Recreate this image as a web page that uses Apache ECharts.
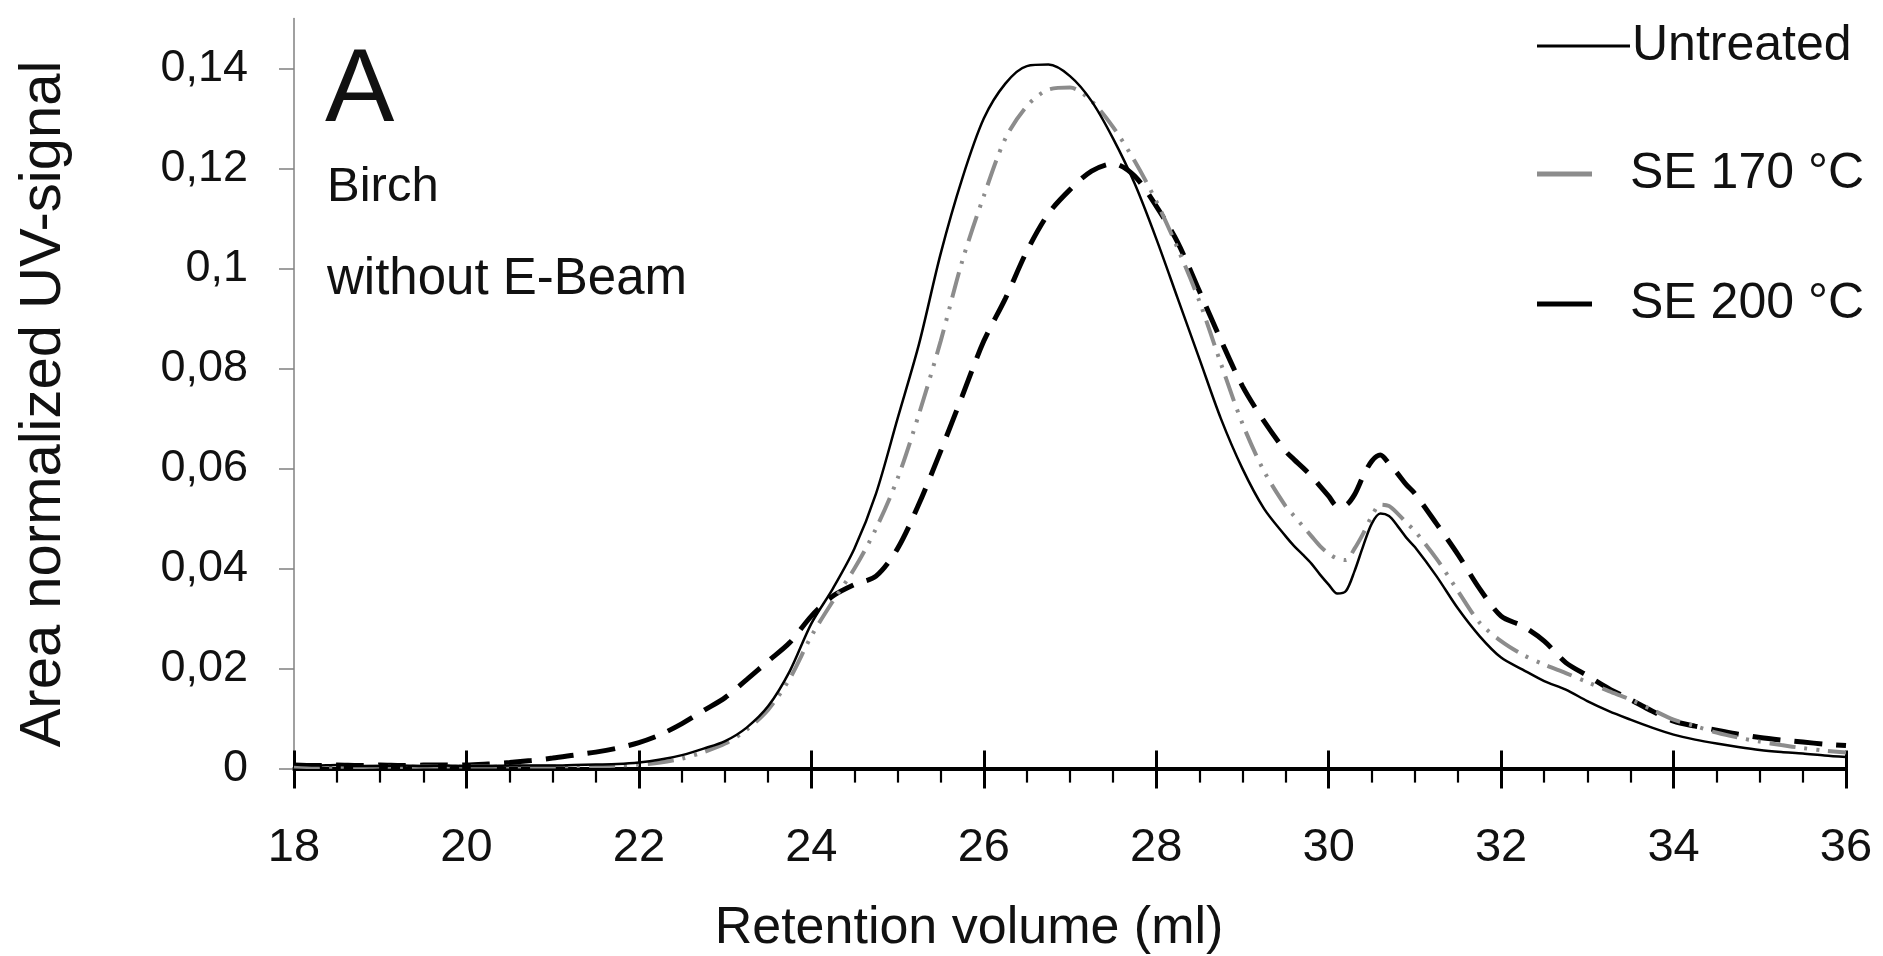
<!DOCTYPE html>
<html>
<head>
<meta charset="utf-8">
<script src="https://cdn.jsdelivr.net/npm/echarts@6/dist/echarts.min.js"></script>
<style>
html,body{margin:0;padding:0;background:#fff;}
#chart{width:1883px;height:956px;}
</style>
</head>
<body>
<div id="chart"></div>
<script>
// Retention volume (ml)
const volume = [
  18, 18.25, 18.5, 18.75, 19, 19.25, 19.5, 19.75,
  20, 20.25, 20.5, 20.75, 21, 21.25, 21.5, 21.75,
  22, 22.25, 22.5, 22.75, 23, 23.25, 23.5, 23.75,
  24, 24.25, 24.5, 24.75, 25, 25.25, 25.5, 25.75,
  26, 26.25, 26.5, 26.75, 27, 27.25, 27.5, 27.75,
  28, 28.25, 28.5, 28.75, 29, 29.25, 29.5,
  29.6, 29.7, 29.8, 29.9, 30.0, 30.1, 30.2, 30.3, 30.4, 30.5, 30.6, 30.7, 30.8, 30.9, 31.0,
  31.25, 31.5, 31.75,
  32, 32.25, 32.5, 32.75, 33, 33.25, 33.5, 33.75,
  34, 34.25, 34.5, 34.75, 35, 35.25, 35.5, 35.75, 36
];
const untreated = [
  0.0008, 0.0006, 0.0007, 0.0005, 0.0005, 0.0006, 0.0005, 0.0006,
  0.0005, 0.0005, 0.0006, 0.0006, 0.0006, 0.0007, 0.0008, 0.0009,
  0.0012, 0.0018, 0.0027, 0.0040, 0.0055, 0.0082, 0.0125, 0.0195,
  0.0290, 0.0360, 0.0440, 0.0550, 0.0700, 0.0850, 0.1030, 0.1180,
  0.1300, 0.1370, 0.1405, 0.1408, 0.1385, 0.1335, 0.1260, 0.1170,
  0.1060, 0.0940, 0.0820, 0.0700, 0.0600, 0.0520, 0.0465,
  0.0445, 0.0428, 0.0410, 0.0388, 0.0368, 0.0350, 0.0355, 0.0395, 0.0445, 0.0490, 0.0510, 0.0505, 0.0485, 0.0462, 0.0443,
  0.0385, 0.0320, 0.0265,
  0.0222, 0.0198, 0.0175, 0.0158, 0.0135, 0.0115, 0.0098, 0.0082,
  0.0068, 0.0058, 0.0050, 0.0043, 0.0037, 0.0033, 0.0030, 0.0026, 0.0023
];
const se170 = [
  0.0004, 0.0003, 0.0004, 0.0003, 0.0004, 0.0003, 0.0004, 0.0004,
  0.0004, 0.0004, 0.0004, 0.0004, 0.0004, 0.0005, 0.0005, 0.0006,
  0.0008, 0.0012, 0.0020, 0.0033, 0.0050, 0.0078, 0.0118, 0.0180,
  0.0265, 0.0335, 0.0400, 0.0480, 0.0580, 0.0710, 0.0855, 0.1015,
  0.1145, 0.1260, 0.1325, 0.1358, 0.1362, 0.1335, 0.1283, 0.1215,
  0.1135, 0.1040, 0.0935, 0.0810, 0.0690, 0.0595, 0.0525,
  0.0505, 0.0485, 0.0465, 0.0445, 0.0430, 0.0420, 0.0417, 0.0440, 0.0470, 0.0505, 0.0528, 0.0525, 0.0510, 0.0492, 0.0475,
  0.0420, 0.0355, 0.0292,
  0.0255, 0.0228, 0.0208, 0.0191, 0.0173, 0.0155, 0.0138, 0.0118,
  0.0098, 0.0085, 0.0072, 0.0062, 0.0054, 0.0047, 0.0041, 0.0036, 0.0032
];
const se200 = [
  0.0007, 0.0006, 0.0007, 0.0006, 0.0007, 0.0006, 0.0007, 0.0007,
  0.0007, 0.0009, 0.0012, 0.0016, 0.0021, 0.0027, 0.0033, 0.0041,
  0.0052, 0.0068, 0.0090, 0.0116, 0.0142, 0.0178, 0.0215, 0.0252,
  0.0305, 0.0345, 0.0368, 0.0385, 0.0440, 0.0530, 0.0635, 0.0745,
  0.0855, 0.0940, 0.1035, 0.1110, 0.1158, 0.1195, 0.1210, 0.1185,
  0.1125, 0.1052, 0.0955, 0.0857, 0.0765, 0.0695, 0.0635,
  0.0618, 0.0602, 0.0585, 0.0565, 0.0545, 0.0525, 0.0527, 0.0548, 0.0585, 0.0615, 0.0627, 0.0610, 0.0590, 0.0568, 0.0550,
  0.0490, 0.0428, 0.0360,
  0.0305, 0.0285, 0.0255, 0.0212, 0.0186, 0.0160, 0.0138, 0.0115,
  0.0095, 0.0085, 0.0077, 0.0069, 0.0062, 0.0057, 0.0053, 0.0049, 0.0046
];
const seriesNames = ['Untreated', 'SE 170 °C', 'SE 200 °C'];
const yTicks = [0, 0.02, 0.04, 0.06, 0.08, 0.1, 0.12, 0.14];
const xTitle = 'Retention volume (ml)';
const yTitle = 'Area normalized UV-signal';
const panelLabel = 'A';
const noteLines = ['Birch', 'without E-Beam'];

const FONT = '"Liberation Sans", Arial, Helvetica, sans-serif';
const TXT = '#111';

function pairs(ys) { return volume.map((v, i) => [v, ys[i]]); }

const gridBox = { left: 294, right: 37, top: 18.6, bottom: 187.4, outerBoundsMode: 'none' };

const chart = echarts.init(document.getElementById('chart'), null, { renderer: 'canvas' });

const legendBase = {
  orient: 'vertical', padding: 0, icon: 'rect', selectedMode: false,
  textStyle: { fontSize: 50, fontFamily: FONT, color: TXT }
};

chart.setOption({
  animation: false,
  backgroundColor: '#fff',
  grid: [
    Object.assign({}, gridBox),
    Object.assign({}, gridBox)
  ],
  xAxis: [
    {
      type: 'value', gridIndex: 0, min: 18, max: 36, interval: 2,
      axisLine: { show: true, onZero: false, lineStyle: { color: '#000', width: 4 } },
      axisTick: { show: true, length: 20, lineStyle: { color: '#000', width: 3 } },
      minorTick: { show: true, splitNumber: 4, length: 14, lineStyle: { color: '#000', width: 2.2 } },
      axisLabel: { fontSize: 47, fontFamily: FONT, color: TXT, margin: 56 },
      splitLine: { show: false }
    },
    {
      type: 'value', gridIndex: 1, min: 18, max: 36, interval: 2,
      axisLine: { show: false, onZero: false },
      axisTick: { show: true, inside: true, length: 18, lineStyle: { color: '#000', width: 3 } },
      axisLabel: { show: false },
      splitLine: { show: false }
    }
  ],
  yAxis: [
    {
      type: 'value', gridIndex: 0, min: 0, max: 0.15,
      axisLine: { show: true, lineStyle: { color: '#808080', width: 1.5 } },
      axisTick: { show: true, length: 15, customValues: yTicks, lineStyle: { color: '#808080', width: 1.5 } },
      axisLabel: {
        customValues: yTicks, fontSize: 45, fontFamily: FONT, color: TXT, margin: 46,
        formatter: v => String(v).replace('.', ',')
      },
      splitLine: { show: false }
    },
    {
      type: 'value', gridIndex: 1, min: 0, max: 0.15, show: false,
      splitLine: { show: false }
    }
  ],
  legend: [
    Object.assign({}, legendBase, {
      data: [seriesNames[0]], left: 1537, top: 21, itemWidth: 93, itemHeight: 3,
      itemStyle: { color: '#000', borderWidth: 0 },
      textStyle: Object.assign({}, legendBase.textStyle, { padding: [0, 0, 0, -3] })
    }),
    Object.assign({}, legendBase, {
      data: [seriesNames[1]], left: 1537, top: 149, itemWidth: 55, itemHeight: 5,
      itemStyle: { color: '#8c8c8c', borderWidth: 0 },
      textStyle: Object.assign({}, legendBase.textStyle, { padding: [0, 0, 0, 33] })
    }),
    Object.assign({}, legendBase, {
      data: [seriesNames[2]], left: 1537, top: 279, itemWidth: 55, itemHeight: 5,
      itemStyle: { color: '#000', borderWidth: 0 },
      textStyle: Object.assign({}, legendBase.textStyle, { padding: [0, 0, 0, 33] })
    })
  ],
  series: [
    {
      name: seriesNames[2], type: 'line', xAxisIndex: 0, yAxisIndex: 0,
      data: pairs(se200), symbol: 'none', smooth: 0.3,
      lineStyle: { color: '#000', width: 5, type: [28, 14], cap: 'butt' },
      itemStyle: { color: '#000' }, z: 2
    },
    {
      name: seriesNames[1], type: 'line', xAxisIndex: 0, yAxisIndex: 0,
      data: pairs(se170), symbol: 'none', smooth: 0.3,
      lineStyle: { color: '#8c8c8c', width: 4, type: [26, 9, 3, 9, 3, 9], cap: 'butt' },
      itemStyle: { color: '#8c8c8c' }, z: 3
    },
    {
      name: seriesNames[0], type: 'line', xAxisIndex: 0, yAxisIndex: 0,
      data: pairs(untreated), symbol: 'none', smooth: 0.3,
      lineStyle: { color: '#000', width: 2.5 },
      itemStyle: { color: '#000' }, z: 4
    }
  ],
  graphic: [
    { type: 'text', x: 325, y: 92, style: { text: panelLabel, fontSize: 104, fontFamily: FONT, fill: TXT, align: 'left', verticalAlign: 'middle' } },
    { type: 'text', x: 327, y: 187, style: { text: noteLines[0], fontSize: 49, fontFamily: FONT, fill: TXT, align: 'left', verticalAlign: 'middle' } },
    { type: 'text', x: 327, y: 280, style: { text: noteLines[1], fontSize: 51, fontFamily: FONT, fill: TXT, align: 'left', verticalAlign: 'middle' } },
    { type: 'text', x: 969, y: 929, style: { text: xTitle, fontSize: 52, fontFamily: FONT, fill: TXT, align: 'center', verticalAlign: 'middle' } },
    { type: 'text', x: 44, y: 404, rotation: Math.PI / 2, style: { text: yTitle, fontSize: 58, fontFamily: FONT, fill: TXT, align: 'center', verticalAlign: 'middle' } }
  ]
});
</script>
</body>
</html>
